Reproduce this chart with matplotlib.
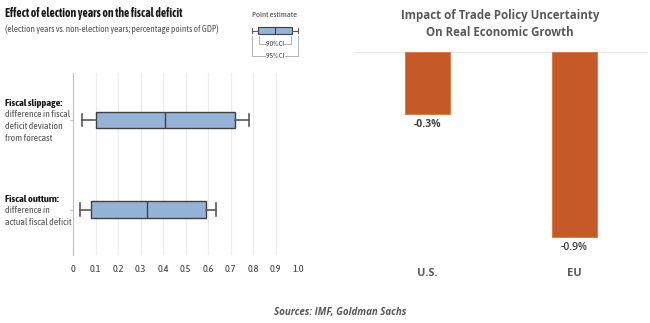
import matplotlib
matplotlib.use("Agg")
import matplotlib.pyplot as plt
from matplotlib.patches import Rectangle

# Left panel data (box: whisker low, q1, median, q3, whisker high)
box_labels = ["Fiscal slippage:", "Fiscal outturn:"]
box_desc = ["difference in fiscal\ndeficit deviation\nfrom forecast",
            "difference in\nactual fiscal deficit"]
whislo = [0.04, 0.03]
q1 = [0.10, 0.08]
med = [0.41, 0.33]
q3 = [0.72, 0.59]
whishi = [0.78, 0.635]
xticks = [0, 0.1, 0.2, 0.3, 0.4, 0.5, 0.6, 0.7, 0.8, 0.9, 1.0]
xticklabels = ["0", "0.1", "0.2", "0.3", "0.4", "0.5", "0.6", "0.7", "0.8", "0.9", "1.0"]

# Right panel data
regions = ["U.S.", "EU"]
impact = [-0.3, -0.9]
impact_labels = ["-0.3%", "-0.9%"]

NARROW = ["Asap Condensed", "Liberation Sans Narrow", "DejaVu Sans"]
OPEN = ["Open Sans", "DejaVu Sans"]
W, H = 650, 323

def fx(px):
    return px / W

def fy(py):
    return 1 - py / H

fig = plt.figure(figsize=(6.5, 3.23), dpi=100)
fig.patch.set_facecolor("white")

# ---------------- Left panel ----------------
axL = fig.add_axes([fx(73), fy(255), fx(225), (255 - 73) / H])
stats = []
for i in range(len(box_labels)):
    stats.append(dict(whislo=whislo[i], q1=q1[i], med=med[i], q3=q3[i],
                      whishi=whishi[i], label=box_labels[i]))
ypos = [1, 0]
axL.bxp(stats, positions=ypos, vert=False, widths=0.18, patch_artist=True,
        showfliers=False,
        boxprops=dict(facecolor="#95B3D7", edgecolor="#404040", linewidth=1.0),
        medianprops=dict(color="#404040", linewidth=1.0),
        whiskerprops=dict(color="#595959", linewidth=1.2),
        capprops=dict(color="#595959", linewidth=1.2),
        capwidths=0.14)
axL.set_xlim(0, 1.0)
axL.set_ylim(-0.508, 1.525)
axL.set_xticks(xticks)
axL.set_xticklabels(xticklabels, family=NARROW, fontsize=7.5, color="#404040")
axL.set_yticks(ypos)
axL.set_yticklabels(["", ""])
axL.grid(axis="x", color="#EBEBEB", linewidth=0.8)
axL.set_axisbelow(True)
for s in ["top", "right", "bottom"]:
    axL.spines[s].set_visible(False)
axL.spines["left"].set_color("#BFBFBF")
axL.tick_params(axis="x", length=0, pad=7)
axL.tick_params(axis="y", length=2, color="#BFBFBF")

# category labels
label_y = [103, 199]
for i in range(len(box_labels)):
    fig.text(fx(5), fy(label_y[i]), box_labels[i], family=NARROW, fontsize=7.5,
             weight="bold", color="#1a1a1a", va="center", ha="left")
    fig.text(fx(5), fy(label_y[i] + 7), box_desc[i], family=NARROW, fontsize=7,
             color="#555555", va="top", ha="left", linespacing=1.45)

fig.text(fx(5), fy(14), "Effect of election years on the fiscal deficit",
         family=NARROW, fontsize=8.3, weight="bold", color="#1a1a1a", va="center")
fig.text(fx(5), fy(29), "(election years vs. non-election years; percentage points of GDP)",
         family=NARROW, fontsize=6.7, color="#555555", va="center")

# legend (pixel coordinates)
axLeg = fig.add_axes([fx(240), fy(65), fx(80), 65 / H])
axLeg.set_xlim(240, 320)
axLeg.set_ylim(65, 0)
axLeg.axis("off")
axLeg.text(275, 15, "Point estimate", family=NARROW, fontsize=6, color="#404040",
           ha="center", va="center")
axLeg.add_patch(Rectangle((258, 27), 34, 7, facecolor="#95B3D7", edgecolor="#404040", lw=0.8))
axLeg.plot([275, 275], [27, 34], color="#404040", lw=0.8)
axLeg.plot([252, 258], [30.5, 30.5], color="#595959", lw=0.8)
axLeg.plot([292, 298], [30.5, 30.5], color="#595959", lw=0.8)
axLeg.plot([252, 252], [28, 33], color="#595959", lw=0.8)
axLeg.plot([298, 298], [28, 33], color="#595959", lw=0.8)
axLeg.plot([259, 259, 266], [36, 44, 44], color="#A6A6A6", lw=0.6)
axLeg.plot([291, 291, 284], [36, 44, 44], color="#A6A6A6", lw=0.6)
axLeg.text(275, 44, "90% CI", family=NARROW, fontsize=5.5, color="#404040", ha="center", va="center")
axLeg.plot([252, 252, 265], [36, 56, 56], color="#A6A6A6", lw=0.6)
axLeg.plot([298, 298, 285], [36, 56, 56], color="#A6A6A6", lw=0.6)
axLeg.text(275, 56, "95% CI", family=NARROW, fontsize=5.5, color="#404040", ha="center", va="center")

# ---------------- Right panel ----------------
axR = fig.add_axes([fx(354), fy(257.6), fx(294), 205.6 / H])
xpos = list(range(len(regions)))
axR.bar(xpos, impact, width=0.31, color="#C55A28", edgecolor="#D9733F", linewidth=0.6, zorder=2)
axR.axhline(0, color="#E3E3E3", lw=1.2, zorder=1)
axR.set_xlim(-0.5, 1.5)
axR.set_ylim(-1.0, 0)
for s in axR.spines.values():
    s.set_visible(False)
axR.set_yticks([])
axR.set_xticks(xpos)
axR.set_xticklabels(regions, fontsize=8, weight="bold", color="#595959", family=OPEN)
axR.tick_params(axis="x", length=0, pad=7.5)
label_weights = ["bold", "semibold"]
for i, v in enumerate(impact):
    axR.text(xpos[i], v - 0.025, impact_labels[i], ha="center", va="top", fontsize=7.5,
             weight=label_weights[i], color="#404040", family=OPEN)

fig.text(fx(500), fy(16), "Impact of Trade Policy Uncertainty", ha="center", va="center",
         fontsize=8.3, weight="bold", color="#595959", family=OPEN)
fig.text(fx(500), fy(32), "On Real Economic Growth", ha="center", va="center",
         fontsize=8.3, weight="bold", color="#595959", family=OPEN)

fig.text(fx(340), fy(313), "Sources: IMF, Goldman Sachs", ha="center", va="center",
         fontsize=7, weight="bold", style="italic", color="#595959", family=OPEN)

fig.savefig("out.png", dpi=100)
